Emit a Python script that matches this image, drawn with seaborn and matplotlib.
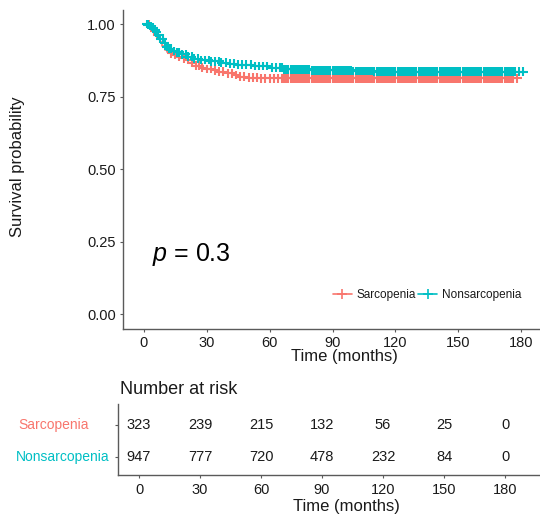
import numpy as np
import pandas as pd
import matplotlib
matplotlib.use("Agg")
import matplotlib.pyplot as plt
import matplotlib.transforms as mtransforms
from matplotlib.lines import Line2D
import seaborn as sns

# ---------------- data ----------------
groups = ["Sarcopenia", "Nonsarcopenia"]
colors = ["#F8766D", "#00BFC4"]

sarc_time = [0, 2, 3, 4, 5, 6, 7, 8, 8.6, 10, 11, 12.5, 14, 16, 18, 20.5, 23, 25, 27.5, 30, 33, 35, 39, 42.7, 46, 49, 55, 178]
sarc_surv = [1.0, 0.997, 0.99, 0.983, 0.975, 0.963, 0.95, 0.937, 0.925, 0.912, 0.905, 0.899, 0.893, 0.888, 0.882, 0.876, 0.866, 0.856, 0.85, 0.845, 0.84, 0.836, 0.83, 0.824, 0.819, 0.815, 0.813, 0.813]

non_time = [0, 2, 3, 4, 5, 6, 7, 8, 9.4, 11, 12, 14, 15, 18, 20.5, 24, 27, 32, 36.4, 41, 45, 52, 60, 66.5, 80, 100, 110, 181]
non_surv = [1.0, 0.997, 0.993, 0.987, 0.98, 0.971, 0.962, 0.95, 0.933, 0.922, 0.915, 0.907, 0.903, 0.895, 0.887, 0.881, 0.876, 0.871, 0.867, 0.863, 0.86, 0.855, 0.849, 0.844, 0.841, 0.838, 0.836, 0.836]

sarc_censor = [2.5, 3.5, 5, 6.5, 13, 15, 17, 19, 21, 23, 25, 26.5, 28, 30, 32, 34, 36, 38, 40, 42,
               44, 46, 48, 50, 52, 54, 56, 58, 60, 62, 64,
               66, 67, 68, 69, 70, 71, 72, 73, 74, 75, 76, 77, 78, 79, 80, 81, 82, 83, 84, 85,
               86, 87, 88, 89, 90, 91, 92, 93, 94, 95, 96, 97, 98, 99, 100, 101, 102, 103, 104,
               105, 106, 107, 108, 109, 110, 111, 112, 113, 114, 115, 116, 117, 118, 119, 120,
               121, 122, 123, 124, 125, 126, 127, 128, 129, 130, 131, 132, 133, 134, 135, 136,
               137, 138, 139, 140, 141, 142, 143, 144, 145, 146, 147, 148, 149, 150, 151, 152,
               153, 154, 155, 156, 157, 158, 159, 160, 161, 162, 163, 164, 165, 166, 167, 168,
               169, 170, 171, 172, 173, 174, 175, 176, 178]
non_censor = [1.5, 2, 3, 3.5, 4.5, 5.5, 6, 7, 8, 9, 10, 11, 12, 13, 14.5, 16, 17, 18.5, 20, 21,
              23, 24, 26, 27.5, 29, 31, 32, 34, 36, 37, 39, 41, 43, 45, 47, 49, 51, 53, 55, 57,
              59, 61, 63, 65,
              66, 67, 68, 69, 70, 71, 72, 73, 74, 75, 76, 77, 78, 79, 80, 81, 82, 83, 84, 85,
              86, 87, 88, 89, 90, 91, 92, 93, 94, 95, 96, 97, 98, 99, 100, 101, 102, 103, 104,
              105, 106, 107, 108, 109, 110, 111, 112, 113, 114, 115, 116, 117, 118, 119, 120,
              121, 122, 123, 124, 125, 126, 127, 128, 129, 130, 131, 132, 133, 134, 135, 136,
              137, 138, 139, 140, 141, 142, 143, 144, 145, 146, 147, 148, 149, 150, 151, 152,
              153, 154, 155, 156, 157, 158, 159, 160, 161, 162, 163, 164, 165, 166, 167, 168,
              169, 170, 171, 172, 173, 174, 175, 176, 177, 179, 181]

risk_times = [0, 30, 60, 90, 120, 150, 180]
sarc_risk = [323, 239, 215, 132, 56, 25, 0]
non_risk = [947, 777, 720, 478, 232, 84, 0]
p_text = "0.3"

# ---------------- tables ----------------
curve_df = pd.concat([
    pd.DataFrame({"time": sarc_time, "surv": sarc_surv, "group": groups[0]}),
    pd.DataFrame({"time": non_time, "surv": non_surv, "group": groups[1]}),
], ignore_index=True)


def step_lookup(t_arr, s_arr, c):
    t_arr = np.asarray(t_arr)
    s_arr = np.asarray(s_arr)
    idx = np.searchsorted(t_arr, np.asarray(c), side="right") - 1
    return s_arr[np.clip(idx, 0, len(s_arr) - 1)]


cens_df = pd.concat([
    pd.DataFrame({"time": sarc_censor, "surv": step_lookup(sarc_time, sarc_surv, sarc_censor), "group": groups[0]}),
    pd.DataFrame({"time": non_censor, "surv": step_lookup(non_time, non_surv, non_censor), "group": groups[1]}),
], ignore_index=True)

# ---------------- style ----------------
sns.set_theme(style="ticks")
plt.rcParams["font.family"] = ["Liberation Sans", "DejaVu Sans"]
plt.rcParams["mathtext.fontset"] = "custom"
plt.rcParams["mathtext.it"] = "Liberation Sans:italic"
plt.rcParams["mathtext.rm"] = "Liberation Sans"

W, H = 540, 521
fig = plt.figure(figsize=(W / 100, H / 100), dpi=100)


def px_axes(l, t, r, b):
    return fig.add_axes([l / W, 1 - b / H, (r - l) / W, (b - t) / H])


spine_col = "#5a5a5a"
text_col = "#1a1a1a"
palette = dict(zip(groups, colors))

# ---------------- main plot ----------------
ax = px_axes(122.7, 9.5, 540, 328.7)
sns.lineplot(data=curve_df, x="time", y="surv", hue="group", palette=palette,
             drawstyle="steps-post", estimator=None, sort=False, legend=False,
             linewidth=1.2, ax=ax)
sns.scatterplot(data=cens_df, x="time", y="surv", hue="group", palette=palette,
                marker="+", s=40, linewidth=1.5, legend=False, ax=ax, zorder=3)

ax.set_xlim(-10.0, 188.9)
ax.set_ylim(-0.05, 1.05)
ax.set_xticks(risk_times)
ax.set_xticklabels([str(t) for t in risk_times])
ax.set_yticks([0, 0.25, 0.5, 0.75, 1.0])
ax.set_yticklabels(["0.00", "0.25", "0.50", "0.75", "1.00"])
ax.set_xlabel("")
ax.set_ylabel("")
for s in ["top", "right"]:
    ax.spines[s].set_visible(False)
for s in ["left", "bottom"]:
    ax.spines[s].set_color(spine_col)
    ax.spines[s].set_linewidth(1.0)
ax.tick_params(length=2.5, width=0.8, color=spine_col, labelsize=10.5,
               labelcolor=text_col, pad=2.5)

ax.text(3.8, 0.205, r"$p$ = " + p_text, fontsize=18, va="center", ha="left", color="black")

fig.text(18 / W, 1 - 167 / H, "Survival probability", rotation=90, ha="center",
         va="center", fontsize=12, color=text_col)
fig.text(344.5 / W, 1 - 356 / H, "Time (months)", ha="center", va="center",
         fontsize=12, color=text_col)

handles = [Line2D([], [], color=c, marker="+", markersize=7, mew=1.2, lw=1.2) for c in colors]
fig.legend(handles, groups, loc="center", bbox_to_anchor=(427 / W, 1 - 295 / H),
           bbox_transform=fig.transFigure, ncol=2, frameon=False, fontsize=8.5,
           handlelength=1.6, handletextpad=0.4, columnspacing=0.2, labelcolor=text_col)

# ---------------- risk table ----------------
rax = px_axes(118.3, 404, 540, 475.3)
rax.set_xlim(-10.2, 197.2)
rax.set_ylim(0.443, 2.65)
rax.set_xticks(risk_times)
rax.set_xticklabels([str(t) for t in risk_times])
rax.set_yticks([1, 2])
rax.set_yticklabels(["", ""])
for s in ["top", "right"]:
    rax.spines[s].set_visible(False)
for s in ["left", "bottom"]:
    rax.spines[s].set_color(spine_col)
    rax.spines[s].set_linewidth(1.0)
rax.tick_params(length=2.5, width=0.8, color=spine_col, labelsize=10.5,
                labelcolor=text_col, pad=3)

for t, n in zip(risk_times, sarc_risk):
    rax.text(t, 2, str(n), ha="center", va="center", fontsize=10.5, color=text_col)
for t, n in zip(risk_times, non_risk):
    rax.text(t, 1, str(n), ha="center", va="center", fontsize=10.5, color=text_col)

blend = mtransforms.blended_transform_factory(fig.transFigure, rax.transData)
rax.text(18 / W, 2, groups[0], transform=blend, ha="left", va="center",
         fontsize=10, color=colors[0])
rax.text(16 / W, 1, groups[1], transform=blend, ha="left", va="center",
         fontsize=10, color=colors[1])

fig.text(120 / W, 1 - 389 / H, "Number at risk", ha="left", va="center",
         fontsize=13, color=text_col)
fig.text(346 / W, 1 - 506.7 / H, "Time (months)", ha="center", va="center",
         fontsize=12, color=text_col)

fig.savefig("out.png", dpi=100)
